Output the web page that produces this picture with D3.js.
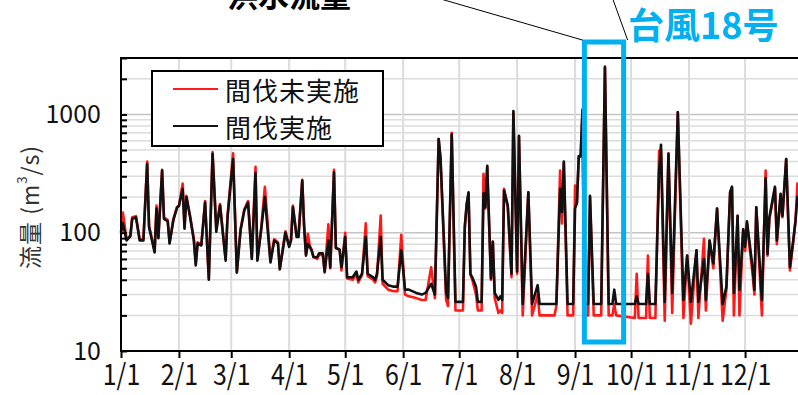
<!DOCTYPE html>
<html>
<head>
<meta charset="utf-8">
<script src="https://cdn.jsdelivr.net/npm/d3@7"></script>
<style>
    html, body { margin: 0; padding: 0; background: #fff; }
    svg { display: block; font-family: "Noto Sans CJK JP", "Noto Sans", sans-serif; }
</style>
</head>
<body>
<div id="chart"></div>
<script>
// day of year (0 = 1/1) for each reading
const days = [
    0, 1, 3, 5, 6, 8, 10, 12, 14, 15, 18, 19, 20, 22, 23, 25, 26, 28, 30, 31,
    33, 34, 35, 37, 39, 40, 41, 43, 45, 47, 49, 51, 53, 56, 57, 60, 62, 64, 66, 68,
    70, 72, 73, 75, 77, 80, 82, 84, 85, 88, 90, 91, 92, 94, 95, 97, 98, 99, 100, 101,
    102, 103, 105, 106, 108, 109, 111, 112, 114, 115, 117, 118, 120, 121, 124, 126, 127, 129, 131, 132,
    135, 136, 137, 139, 140, 143, 146, 148, 150, 152, 154, 158, 161, 163, 166, 168, 170, 171, 174, 175,
    177, 179, 183, 184, 185, 186, 187, 188, 190, 191, 193, 194, 195, 196, 198, 199, 200, 202, 203, 204,
    205, 207, 209, 210, 212, 213, 215, 218, 220, 223, 224, 232, 233, 235, 236, 237, 239, 242, 243, 244,
    245, 246, 247, 248, 250, 251, 253, 257, 259, 261, 263, 264, 265, 275, 276, 277, 281, 282, 283, 286,
    288, 289, 291, 293, 295, 298, 301, 303, 305, 308, 309, 312, 313, 315, 317, 319, 322, 324, 326, 327,
    328, 330, 331, 333, 334, 335, 338, 339, 340, 343, 345, 346, 347, 350, 351, 353, 354, 356, 358, 360,
    361, 362, 364
];

// 間伐実施 (m3/s)
const flowThinned = [
    100, 120, 86, 93, 131, 135, 86, 86, 380, 112, 68, 160, 90, 335, 131, 125, 81, 127, 163, 168,
    235, 108, 200, 135, 86, 53, 81, 78, 180, 40, 465, 102, 170, 58, 135, 420, 46, 105, 154, 180,
    60, 320, 58, 105, 200, 56, 86, 81, 49, 100, 76, 86, 164, 92, 92, 276, 113, 64, 80, 76,
    71, 62, 62, 67, 67, 47, 86, 51, 324, 74, 72, 51, 92, 42, 42, 47, 40, 45, 92, 45,
    42, 40, 45, 92, 40, 36, 35, 35, 71, 33, 33, 31, 30, 31, 37, 30, 620, 430, 31, 28,
    680, 26, 26, 113, 175, 220, 45, 42, 35, 26, 26, 215, 164, 368, 41, 84, 31, 27, 29, 27,
    227, 170, 45, 1070, 47, 660, 25, 220, 25, 36, 25, 25, 25, 235, 150, 400, 25, 25, 160, 180,
    445, 445, 1100, 25, 25, 205, 25, 25, 2500, 25, 25, 33, 25, 25, 29, 25, 25, 45, 25, 25,
    330, 555, 26, 465, 31, 1040, 27, 64, 26, 71, 26, 60, 27, 86, 55, 160, 25, 35, 220, 245,
    31, 139, 33, 107, 76, 125, 51, 33, 164, 27, 290, 66, 135, 245, 86, 213, 139, 420, 51, 92,
    127, 200, 180
];

// 間伐未実施 (m3/s)
const flowUnthinned = [
    100, 148, 88, 95, 135, 138, 88, 88, 400, 115, 70, 170, 92, 340, 135, 128, 83, 130, 165, 170,
    260, 112, 205, 138, 88, 55, 83, 80, 185, 41, 480, 110, 175, 60, 138, 470, 47, 108, 158, 185,
    62, 360, 60, 108, 245, 58, 88, 83, 50, 103, 78, 88, 170, 94, 94, 280, 115, 66, 98, 78,
    72, 63, 60, 65, 65, 46, 118, 50, 340, 75, 72, 48, 100, 41, 40, 45, 38, 44, 120, 43,
    40, 38, 43, 140, 37, 33, 32, 32, 96, 30, 29, 28, 27, 27, 51, 28, 620, 420, 27, 24,
    700, 22, 22, 110, 170, 215, 44, 40, 30, 22, 22, 315, 160, 360, 40, 84, 28, 21, 22, 21,
    235, 165, 42, 1050, 45, 650, 20, 220, 20, 30, 20, 20, 24, 335, 120, 390, 20, 20, 250, 175,
    440, 440, 1100, 20, 20, 200, 20, 20, 2550, 20, 20, 25, 20, 19, 45, 19, 19, 64, 19, 19,
    494, 500, 18, 470, 21, 1050, 19, 64, 17, 71, 19, 89, 22, 86, 50, 160, 18, 33, 220, 240,
    20, 139, 20, 107, 70, 120, 45, 30, 164, 20, 335, 64, 130, 240, 80, 210, 135, 420, 48, 90,
    125, 260, 200
];

const monthLabels = ['1/1', '2/1', '3/1', '4/1', '5/1', '6/1', '7/1', '8/1', '9/1', '10/1', '11/1', '12/1'];
const yTickLabels = [10, 100, 1000];
const seriesNames = ['間伐未実施', '間伐実施'];
const typhoonStart = 248; // day of year, left edge of the highlight
const typhoonEnd = 269;

const year = 2013;
const width = 798;
const height = 395;
const colors = {
    unthinned: '#ff1a1a',
    thinned: '#111111',
    highlight: '#00b0f0',
    grid: '#dcdcdc',
    gridMajor: '#c4c4c4'
};

const dateOf = d => new Date(year, 0, 1 + d);
const thinned = days.map((d, i) => ({ date: dateOf(d), v: flowThinned[i] }));
const unthinned = days.map((d, i) => ({ date: dateOf(d), v: flowUnthinned[i] }));

const svg = d3.select('#chart').append('svg')
    .attr('width', width)
    .attr('height', height);

const x = d3.scaleTime()
    .domain([new Date(year, 0, 1), new Date(year + 1, 0, 1)])
    .range([121, 803]);

const y = d3.scaleLog()
    .domain([10, 3000])
    .range([351, 58]);

const left = x.range()[0];
const right = width;

// Grid
const logTicks = y.ticks();
svg.append('g')
    .selectAll('line')
    .data(logTicks.filter(t => t > 10))
    .join('line')
    .attr('x1', left).attr('x2', right)
    .attr('y1', d => y(d)).attr('y2', d => y(d))
    .attr('stroke', d => yTickLabels.includes(d) ? colors.gridMajor : colors.grid)
    .attr('stroke-width', 1.5);

const monthDates = monthLabels.map((_, i) => new Date(year, i, 1));
svg.append('g')
    .selectAll('line')
    .data(monthDates.slice(1))
    .join('line')
    .attr('x1', d => x(d)).attr('x2', d => x(d))
    .attr('y1', y.range()[1]).attr('y2', y.range()[0])
    .attr('stroke', colors.grid)
    .attr('stroke-width', 2);

// Series
const line = d3.line()
    .x(d => x(d.date))
    .y(d => y(d.v));

svg.append('path')
    .datum(unthinned)
    .attr('fill', 'none')
    .attr('stroke', colors.unthinned)
    .attr('stroke-width', 2.6)
    .attr('stroke-linejoin', 'round')
    .attr('d', line);

svg.append('path')
    .datum(thinned)
    .attr('fill', 'none')
    .attr('stroke', colors.thinned)
    .attr('stroke-width', 2.6)
    .attr('stroke-linejoin', 'round')
    .attr('d', line);

// Frame
svg.append('path')
    .attr('d', `M${right},${y.range()[1]}H${left}V${y.range()[0]}H${right}`)
    .attr('fill', 'none')
    .attr('stroke', '#000')
    .attr('stroke-width', 2);

// Y ticks (inward) and labels
svg.append('g')
    .attr('transform', `translate(${left},0)`)
    .call(d3.axisRight(y).tickValues(logTicks).tickSize(6).tickFormat(''))
    .call(g => g.select('.domain').remove())
    .call(g => g.selectAll('line').attr('stroke', '#000').attr('stroke-width', 2));

svg.append('g')
    .selectAll('text')
    .data(yTickLabels)
    .join('text')
    .attr('x', 101)
    .attr('y', d => y(d))
    .attr('dy', '0.35em')
    .attr('text-anchor', 'end')
    .attr('font-size', 25)
    .attr('fill', '#111')
    .text(d => d);

// X axis
const xAxis = svg.append('g')
    .attr('transform', `translate(0,${y.range()[0]})`)
    .call(d3.axisBottom(x)
        .tickValues(monthDates)
        .tickFormat((d, i) => monthLabels[i])
        .tickSize(7)
        .tickPadding(6));
xAxis.select('.domain').remove();
xAxis.selectAll('line').attr('stroke', '#000').attr('stroke-width', 2);
xAxis.selectAll('text')
    .attr('font-size', 29)
    .attr('font-family', '"Noto Sans CJK JP", sans-serif')
    .attr('transform', 'scale(0.86,1)')
    .attr('fill', '#111');

// Y title
svg.append('text')
    .attr('transform', 'translate(29,207) rotate(-90)')
    .attr('text-anchor', 'middle')
    .attr('dominant-baseline', 'central')
    .attr('font-size', 23)
    .attr('letter-spacing', 1)
    .attr('fill', '#333')
    .call(t => {
        t.append('tspan').text('流量 (m');
        t.append('tspan').attr('font-size', 13).attr('dy', -8).text('3');
        t.append('tspan').attr('dy', 8).text('/s)');
    });

// Legend
const legend = svg.append('g');
legend.append('rect')
    .attr('x', 152).attr('y', 71)
    .attr('width', 231).attr('height', 75)
    .attr('fill', '#fff')
    .attr('stroke', '#000')
    .attr('stroke-width', 2);

[colors.unthinned, colors.thinned].forEach((c, i) => {
    const ly = 89 + i * 37;
    legend.append('line')
        .attr('x1', 173).attr('x2', 218)
        .attr('y1', ly).attr('y2', ly)
        .attr('stroke', c)
        .attr('stroke-width', 2);
    legend.append('text')
        .attr('x', 225).attr('y', ly)
        .attr('dominant-baseline', 'central')
        .attr('font-size', 26)
        .attr('letter-spacing', 1)
        .attr('fill', '#111')
        .text(seriesNames[i]);
});

// Typhoon highlight and callouts
const hx0 = x(dateOf(typhoonStart));
const hx1 = x(dateOf(typhoonEnd));
svg.append('rect')
    .attr('x', hx0).attr('y', 42)
    .attr('width', hx1 - hx0).attr('height', 300)
    .attr('fill', 'none')
    .attr('stroke', colors.highlight)
    .attr('stroke-width', 5);

svg.append('line')
    .attr('x1', 420).attr('y1', -7)
    .attr('x2', hx0 - 2).attr('y2', 40)
    .attr('stroke', '#000').attr('stroke-width', 1);

svg.append('line')
    .attr('x1', 611).attr('y1', -6)
    .attr('x2', hx1 + 4).attr('y2', 40)
    .attr('stroke', '#000').attr('stroke-width', 1);

svg.append('text')
    .attr('x', 628).attr('y', 39)
    .attr('font-size', 36)
    .attr('font-weight', 'bold')
    .attr('fill', colors.highlight)
    .text('台風18号');

svg.append('text')
    .attr('x', 227).attr('y', 7)
    .attr('font-size', 31)
    .attr('font-weight', 'bold')
    .attr('fill', '#000')
    .text('洪水流量');
</script>
</body>
</html>
